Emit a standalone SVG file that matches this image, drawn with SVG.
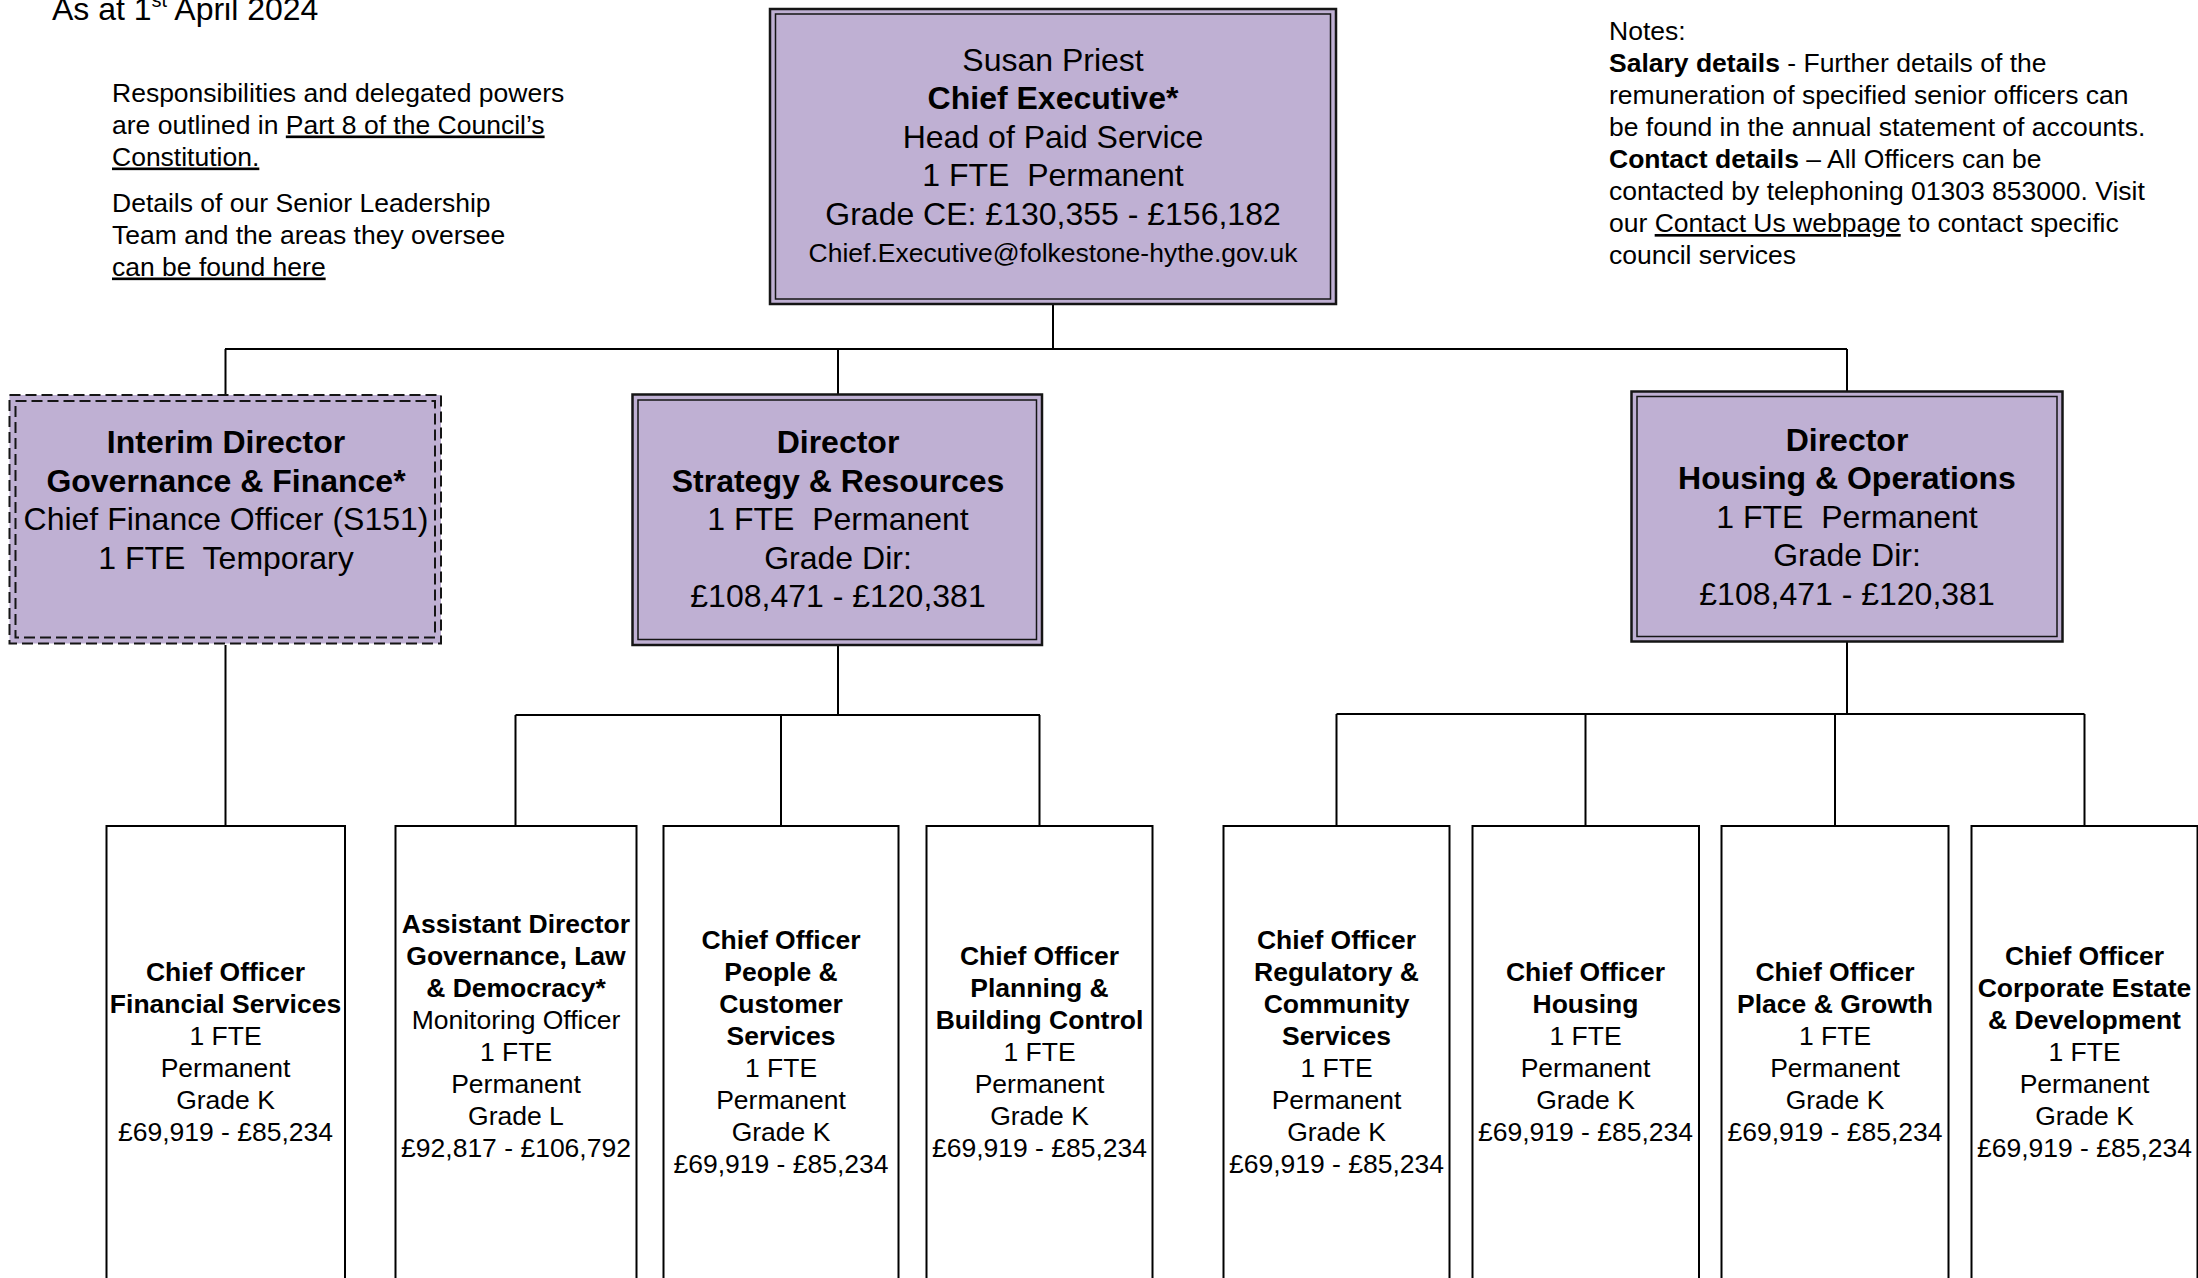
<svg xmlns="http://www.w3.org/2000/svg" width="2198" height="1278" viewBox="0 0 2198 1278">
<style>
text { font-family: "Liberation Sans", Arial, sans-serif; fill: #000; }
.s26 { font-size: 26.5px; }
.s32 { font-size: 32px; }
.b { font-weight: bold; }
.u { text-decoration: underline; }
.m { text-anchor: middle; }
.outer { fill: #BFB0D3; stroke: #151515; stroke-width: 2.5; }
.inner { fill: none; stroke: #151515; stroke-width: 1.5; }
.dasho { fill: #BFB0D3; stroke: #151515; stroke-width: 2; stroke-dasharray: 11 5; }
.dashi { fill: none; stroke: #151515; stroke-width: 2; stroke-dasharray: 11 5; }
.leaf { fill: #fff; stroke: #000; stroke-width: 2; }
.conn { fill: none; stroke: #000; stroke-width: 2; }
</style>
<rect width="2198" height="1278" fill="#fff"/>

<g id="header">
  <text class="s32" x="52" y="19.5">As at 1<tspan font-size="20" dy="-13">st</tspan><tspan dy="13"> April 2024</tspan></text>
</g>

<g id="left-notes" class="s26">
  <text x="112" y="101.5">Responsibilities and delegated powers</text>
  <text x="112" y="133.5">are outlined in <tspan class="u">Part 8 of the Council’s</tspan></text>
  <text x="112" y="165.5" class="u">Constitution.</text>
  <text x="112" y="211.5">Details of our Senior Leadership</text>
  <text x="112" y="243.5">Team and the areas they oversee</text>
  <text x="112" y="275.5" class="u">can be found here</text>
</g>

<g id="right-notes" class="s26">
  <text x="1609" y="40">Notes:</text>
  <text x="1609" y="72"><tspan class="b">Salary details</tspan> - Further details of the</text>
  <text x="1609" y="104">remuneration of specified senior officers can</text>
  <text x="1609" y="136">be found in the annual statement of accounts.</text>
  <text x="1609" y="168"><tspan class="b">Contact details</tspan> – All Officers can be</text>
  <text x="1609" y="200">contacted by telephoning 01303 853000. Visit</text>
  <text x="1609" y="232">our <tspan class="u">Contact Us webpage</tspan> to contact specific</text>
  <text x="1609" y="264">council services</text>
</g>

<g id="connectors" class="conn">
  <path d="M1053 304 V349 M225 349 H1847 M225.5 349 V395 M838 349 V395 M1847 349 V391"/>
  <path d="M225.5 645 V826"/>
  <path d="M838 645 V715 M515.5 715 H1040 M515.5 715 V826 M781 715 V826 M1039.5 715 V826"/>
  <path d="M1847 642 V714 M1336.5 714 H2084.5 M1336.5 714 V826 M1585.5 714 V826 M1835 714 V826 M2084.5 714 V826"/>
</g>

<g id="ceo">
  <rect class="outer" x="770" y="9" width="566" height="295"/>
  <rect class="inner" x="775.5" y="14" width="555" height="285"/>
  <text class="s32 m" x="1053" y="70.5">Susan Priest</text>
  <text class="s32 m b" x="1053" y="109">Chief Executive*</text>
  <text class="s32 m" x="1053" y="147.5">Head of Paid Service</text>
  <text class="s32 m" x="1053" y="186" xml:space="preserve">1 FTE  Permanent</text>
  <text class="s32 m" x="1053" y="224.5">Grade CE: £130,355 - £156,182</text>
  <text class="s26 m" x="1053" y="261.5">Chief.Executive@folkestone-hythe.gov.uk</text>
</g>

<g id="interim-director">
  <rect class="dasho" x="9.5" y="395" width="431.5" height="248.5"/>
  <rect class="dashi" x="15.5" y="401" width="419.5" height="236.5"/>
  <text class="s32 m b" x="226" y="453">Interim Director</text>
  <text class="s32 m b" x="226" y="491.6">Governance &amp; Finance*</text>
  <text class="s32 m" x="226" y="530.2">Chief Finance Officer (S151)</text>
  <text class="s32 m" x="226" y="568.8" xml:space="preserve">1 FTE  Temporary</text>
</g>

<g id="director-strategy">
  <rect class="outer" x="632.5" y="394.5" width="409.5" height="250.5"/>
  <rect class="inner" x="638" y="400" width="398.5" height="239.5"/>
  <text class="s32 m b" x="838" y="453">Director</text>
  <text class="s32 m b" x="838" y="491.6">Strategy &amp; Resources</text>
  <text class="s32 m" x="838" y="530.2" xml:space="preserve">1 FTE  Permanent</text>
  <text class="s32 m" x="838" y="568.8">Grade Dir:</text>
  <text class="s32 m" x="838" y="607.4">£108,471 - £120,381</text>
</g>

<g id="director-housing">
  <rect class="outer" x="1631.5" y="391.5" width="431" height="250"/>
  <rect class="inner" x="1637" y="396.5" width="420" height="240"/>
  <text class="s32 m b" x="1847" y="450.5">Director</text>
  <text class="s32 m b" x="1847" y="489.1">Housing &amp; Operations</text>
  <text class="s32 m" x="1847" y="527.7" xml:space="preserve">1 FTE  Permanent</text>
  <text class="s32 m" x="1847" y="566.3">Grade Dir:</text>
  <text class="s32 m" x="1847" y="604.9">£108,471 - £120,381</text>
</g>

<g id="co-financial">
  <rect class="leaf" x="106.5" y="826" width="238.5" height="470"/>
  <text class="s26 m" y="981"><tspan x="225.5" class="b">Chief Officer</tspan><tspan x="225.5" dy="32" class="b">Financial Services</tspan><tspan x="225.5" dy="32">1 FTE</tspan><tspan x="225.5" dy="32">Permanent</tspan><tspan x="225.5" dy="32">Grade K</tspan><tspan x="225.5" dy="32">£69,919 - £85,234</tspan></text>
</g>

<g id="ad-governance">
  <rect class="leaf" x="395.5" y="826" width="241" height="470"/>
  <text class="s26 m" y="932.5"><tspan x="516" class="b">Assistant Director</tspan><tspan x="516" dy="32" class="b">Governance, Law</tspan><tspan x="516" dy="32" class="b">&amp; Democracy*</tspan><tspan x="516" dy="32">Monitoring Officer</tspan><tspan x="516" dy="32">1 FTE</tspan><tspan x="516" dy="32">Permanent</tspan><tspan x="516" dy="32">Grade L</tspan><tspan x="516" dy="32">£92,817 - £106,792</tspan></text>
</g>

<g id="co-people">
  <rect class="leaf" x="663.5" y="826" width="235" height="470"/>
  <text class="s26 m" y="948.5"><tspan x="781" class="b">Chief Officer</tspan><tspan x="781" dy="32" class="b">People &amp;</tspan><tspan x="781" dy="32" class="b">Customer</tspan><tspan x="781" dy="32" class="b">Services</tspan><tspan x="781" dy="32">1 FTE</tspan><tspan x="781" dy="32">Permanent</tspan><tspan x="781" dy="32">Grade K</tspan><tspan x="781" dy="32">£69,919 - £85,234</tspan></text>
</g>

<g id="co-planning">
  <rect class="leaf" x="926.5" y="826" width="226" height="470"/>
  <text class="s26 m" y="965"><tspan x="1039.5" class="b">Chief Officer</tspan><tspan x="1039.5" dy="32" class="b">Planning &amp;</tspan><tspan x="1039.5" dy="32" class="b">Building Control</tspan><tspan x="1039.5" dy="32">1 FTE</tspan><tspan x="1039.5" dy="32">Permanent</tspan><tspan x="1039.5" dy="32">Grade K</tspan><tspan x="1039.5" dy="32">£69,919 - £85,234</tspan></text>
</g>

<g id="co-regulatory">
  <rect class="leaf" x="1223.5" y="826" width="226" height="470"/>
  <text class="s26 m" y="948.5"><tspan x="1336.5" class="b">Chief Officer</tspan><tspan x="1336.5" dy="32" class="b">Regulatory &amp;</tspan><tspan x="1336.5" dy="32" class="b">Community</tspan><tspan x="1336.5" dy="32" class="b">Services</tspan><tspan x="1336.5" dy="32">1 FTE</tspan><tspan x="1336.5" dy="32">Permanent</tspan><tspan x="1336.5" dy="32">Grade K</tspan><tspan x="1336.5" dy="32">£69,919 - £85,234</tspan></text>
</g>

<g id="co-housing">
  <rect class="leaf" x="1472.5" y="826" width="226.5" height="470"/>
  <text class="s26 m" y="981"><tspan x="1585.5" class="b">Chief Officer</tspan><tspan x="1585.5" dy="32" class="b">Housing</tspan><tspan x="1585.5" dy="32">1 FTE</tspan><tspan x="1585.5" dy="32">Permanent</tspan><tspan x="1585.5" dy="32">Grade K</tspan><tspan x="1585.5" dy="32">£69,919 - £85,234</tspan></text>
</g>

<g id="co-place">
  <rect class="leaf" x="1721.5" y="826" width="227" height="470"/>
  <text class="s26 m" y="981"><tspan x="1835" class="b">Chief Officer</tspan><tspan x="1835" dy="32" class="b">Place &amp; Growth</tspan><tspan x="1835" dy="32">1 FTE</tspan><tspan x="1835" dy="32">Permanent</tspan><tspan x="1835" dy="32">Grade K</tspan><tspan x="1835" dy="32">£69,919 - £85,234</tspan></text>
</g>

<g id="co-corporate">
  <rect class="leaf" x="1971.5" y="826" width="226" height="470"/>
  <text class="s26 m" y="965"><tspan x="2084.5" class="b">Chief Officer</tspan><tspan x="2084.5" dy="32" class="b">Corporate Estate</tspan><tspan x="2084.5" dy="32" class="b">&amp; Development</tspan><tspan x="2084.5" dy="32">1 FTE</tspan><tspan x="2084.5" dy="32">Permanent</tspan><tspan x="2084.5" dy="32">Grade K</tspan><tspan x="2084.5" dy="32">£69,919 - £85,234</tspan></text>
</g>
</svg>
